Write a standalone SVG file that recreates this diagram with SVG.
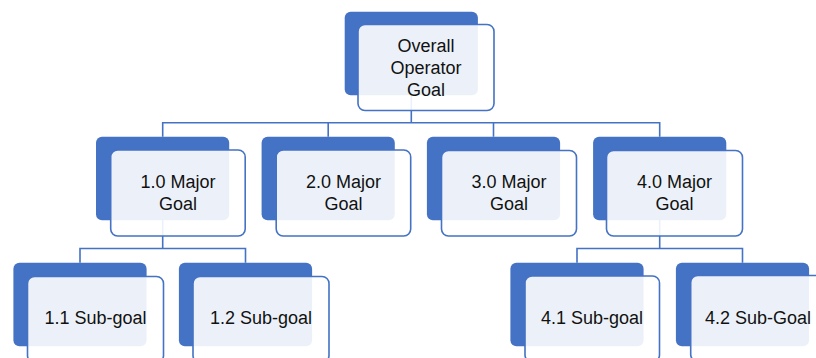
<svg xmlns="http://www.w3.org/2000/svg" width="816" height="358" viewBox="0 0 816 358">
  <style>
    .back { fill: #4472C4; }
    .front { fill: #FFFFFF; fill-opacity: 0.9; stroke: #4472C4; stroke-width: 1.6; }
    .link { fill: none; stroke: #4472C4; stroke-width: 1.6; }
    .label { font-family: "Liberation Sans", Arial, sans-serif; font-size: 18px; fill: #111111; text-anchor: middle; }
  </style>
  <rect width="816" height="358" fill="#FFFFFF"/>

  <!-- tree connectors (drawn beneath the cards) -->
  <g id="connectors">
    <path class="link" d="M411.3 95 V122.7 M162.7 136.7 V122.7 H659.7 V136.7 M328.2 122.7 V136.7 M493.5 122.7 V136.7"/>
    <path class="link" d="M162.7 220 V248.5 M80 262.7 V248.5 H245.5 V262.7"/>
    <path class="link" d="M659.7 220 V248.5 M577 262.7 V248.5 H742.5 V262.7"/>
  </g>

  <!-- root -->
  <g id="overall-goal">
    <rect class="back" x="344.7" y="11.7" width="133.2" height="83.5" rx="6"/>
    <rect class="front" x="358" y="24.5" width="136" height="86" rx="7"/>
    <text class="label" x="426" y="51.5">Overall</text>
    <text class="label" x="426" y="73.5">Operator</text>
    <text class="label" x="426" y="95.5">Goal</text>
  </g>

  <!-- major goals -->
  <g id="major-1">
    <rect class="back" x="96" y="136.7" width="133.2" height="83.5" rx="6"/>
    <rect class="front" x="110.7" y="150" width="134.5" height="86" rx="7"/>
    <text class="label" x="178" y="188">1.0 Major</text>
    <text class="label" x="178" y="210">Goal</text>
  </g>
  <g id="major-2">
    <rect class="back" x="261.6" y="136.7" width="133.2" height="83.5" rx="6"/>
    <rect class="front" x="276.2" y="150" width="134.5" height="86" rx="7"/>
    <text class="label" x="343.5" y="188">2.0 Major</text>
    <text class="label" x="343.5" y="210">Goal</text>
  </g>
  <g id="major-3">
    <rect class="back" x="426.9" y="136.7" width="133.2" height="83.5" rx="6"/>
    <rect class="front" x="441.5" y="150.5" width="135" height="85.5" rx="7"/>
    <text class="label" x="509" y="188">3.0 Major</text>
    <text class="label" x="509" y="210">Goal</text>
  </g>
  <g id="major-4">
    <rect class="back" x="593.1" y="136.7" width="133.2" height="83.5" rx="6"/>
    <rect class="front" x="606.5" y="150.5" width="136" height="85.5" rx="7"/>
    <text class="label" x="674.5" y="188">4.0 Major</text>
    <text class="label" x="674.5" y="210">Goal</text>
  </g>

  <!-- sub-goals -->
  <g id="sub-1-1">
    <rect class="back" x="13.4" y="262.7" width="133.2" height="83.5" rx="6"/>
    <rect class="front" x="27.5" y="276.5" width="136" height="86" rx="7"/>
    <text class="label" x="95.5" y="324">1.1 Sub-goal</text>
  </g>
  <g id="sub-1-2">
    <rect class="back" x="178.9" y="262.7" width="133.2" height="83.5" rx="6"/>
    <rect class="front" x="193" y="276.5" width="136" height="86" rx="7"/>
    <text class="label" x="261" y="324">1.2 Sub-goal</text>
  </g>
  <g id="sub-4-1">
    <rect class="back" x="510.4" y="262.7" width="133.2" height="83.5" rx="6"/>
    <rect class="front" x="525" y="276" width="134.5" height="86" rx="7"/>
    <text class="label" x="592" y="324">4.1 Sub-goal</text>
  </g>
  <g id="sub-4-2">
    <rect class="back" x="675.9" y="262.7" width="133.2" height="83.5" rx="6"/>
    <rect class="front" x="690.7" y="275.5" width="136" height="86" rx="7"/>
    <text class="label" x="758" y="324">4.2 Sub-Goal</text>
  </g>
</svg>
